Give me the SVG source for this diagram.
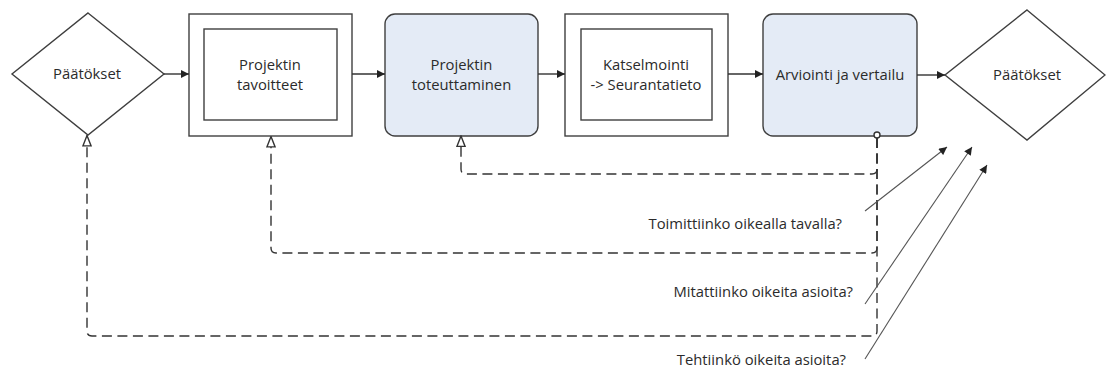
<svg xmlns="http://www.w3.org/2000/svg" width="1106" height="369" viewBox="0 0 1106 369">
  <style>
    .shape { fill: #ffffff; stroke: #3f3f3f; stroke-width: 1.4; }
    .task { fill: #e4ebf6; stroke: #3f3f3f; stroke-width: 1.4; }
    .lbl { font-family: "Open Sans", "Noto Sans", sans-serif; font-size: 14.8px; fill: #2b2b2b; text-anchor: middle; }
    .note { font-family: "Open Sans", "Noto Sans", sans-serif; font-size: 14.8px; fill: #2b2b2b; text-anchor: end; }
    .flow { fill: none; stroke: #333333; stroke-width: 1.4; }
    .back { fill: none; stroke: #333333; stroke-width: 1.4; stroke-dasharray: 10 5.5; }
    .ask { fill: none; stroke: #555555; stroke-width: 1.1; }
  </style>
  <defs>
    <marker id="solid" viewBox="0 0 10 10" refX="10" refY="5" markerWidth="9" markerHeight="8" markerUnits="userSpaceOnUse" orient="auto">
      <path d="M0,0 L10,5 L0,10 Z" fill="#222222"/>
    </marker>
    <marker id="thin" viewBox="0 0 10 10" refX="10" refY="5" markerWidth="9" markerHeight="8" markerUnits="userSpaceOnUse" orient="auto">
      <path d="M0,0 L10,5 L0,10 Z" fill="#222222"/>
    </marker>
    <marker id="hollow" viewBox="0 0 12 10" refX="11.2" refY="5" markerWidth="12" markerHeight="10" markerUnits="userSpaceOnUse" orient="auto">
      <path d="M0.8,0.9 L11.2,5 L0.8,9.1 Z" fill="#ffffff" stroke="#333333" stroke-width="1.4"/>
    </marker>
  </defs>

  <!-- nodes -->
  <g id="decision-start">
    <polygon class="shape" points="88,13 164,74 88,135 12,74"/>
    <text class="lbl" x="87" y="79">Päätökset</text>
  </g>

  <g id="goals">
    <rect class="shape" x="189" y="14" width="163" height="122"/>
    <rect class="shape" x="204" y="29" width="133" height="91"/>
    <text class="lbl" x="270" y="70">Projektin</text>
    <text class="lbl" x="270" y="90">tavoitteet</text>
  </g>

  <g id="implementation">
    <rect class="task" x="385" y="14" width="153" height="122" rx="10" ry="10"/>
    <text class="lbl" x="461.5" y="70">Projektin</text>
    <text class="lbl" x="461.5" y="90">toteuttaminen</text>
  </g>

  <g id="review">
    <rect class="shape" x="565" y="14" width="163" height="122"/>
    <rect class="shape" x="581" y="29" width="131" height="91"/>
    <text class="lbl" x="646" y="70">Katselmointi</text>
    <text class="lbl" x="646" y="90">-&gt; Seurantatieto</text>
  </g>

  <g id="evaluation">
    <rect class="task" x="763" y="14" width="154" height="122" rx="10" ry="10"/>
    <text class="lbl" x="840" y="80">Arviointi ja vertailu</text>
  </g>

  <g id="decision-end">
    <polygon class="shape" points="1027,10 1105,75 1027,140 945,75"/>
    <text class="lbl" x="1027" y="80">Päätökset</text>
  </g>

  <g id="questions">
    <text class="note" x="842" y="229">Toimittiinko oikealla tavalla?</text>
    <text class="note" x="853" y="297">Mitattiinko oikeita asioita?</text>
    <text class="note" x="846" y="365">Tehtiinkö oikeita asioita?</text>
  </g>

  <!-- connectors -->
  <g id="connectors">
    <!-- main flow -->
    <line class="flow" x1="164" y1="74" x2="189" y2="74" marker-end="url(#solid)"/>
    <line class="flow" x1="352" y1="74" x2="385" y2="74" marker-end="url(#solid)"/>
    <line class="flow" x1="538" y1="74" x2="565" y2="74" marker-end="url(#solid)"/>
    <line class="flow" x1="728" y1="74" x2="763" y2="74" marker-end="url(#solid)"/>
    <line class="flow" x1="917" y1="75" x2="945" y2="75" marker-end="url(#solid)"/>

    <!-- feedback loops from the evaluation -->
    <path class="back" d="M877,138 V169 Q877,174 872,174 H466 Q461,174 461,169 V136" marker-end="url(#hollow)"/>
    <path class="back" d="M877,138 V248 Q877,253 872,253 H276 Q271,253 271,248 V136.5" marker-end="url(#hollow)"/>
    <path class="back" d="M877,138 V331 Q877,336 872,336 H92 Q87,336 87,331 V135.5" marker-end="url(#hollow)"/>
    <circle cx="877" cy="135" r="3" fill="#ffffff" stroke="#333333" stroke-width="1.4"/>

    <!-- question pointers -->
    <line class="ask" x1="865" y1="211" x2="947" y2="147" marker-end="url(#thin)"/>
    <line class="ask" x1="865" y1="304" x2="972" y2="147" marker-end="url(#thin)"/>
    <line class="ask" x1="865" y1="359" x2="987" y2="165" marker-end="url(#thin)"/>
  </g>
</svg>
